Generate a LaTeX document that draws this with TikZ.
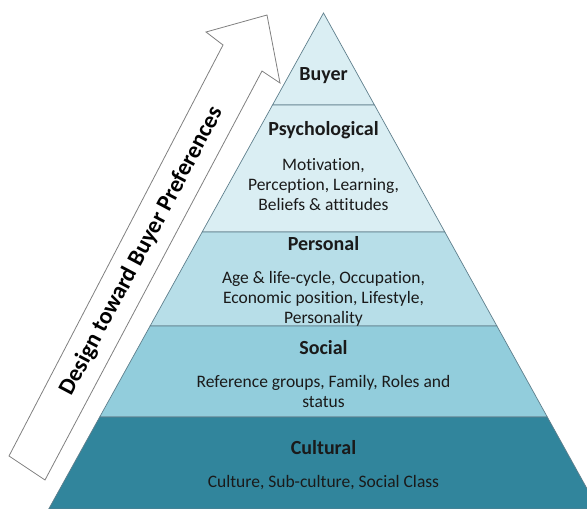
\documentclass[tikz,border=0pt]{standalone}
\usepackage{fontspec}
\setmainfont{Carlito}[Ligatures={NoCommon}]
\usetikzlibrary{positioning}
\definecolor{lightaqua}{HTML}{DAEEF3}
\definecolor{midaqua}{HTML}{B7DEE8}
\definecolor{deepaqua}{HTML}{92CDDC}
\definecolor{darkaqua}{HTML}{31859C}
\definecolor{bandline}{HTML}{5F7F8C}
\definecolor{arrowline}{HTML}{808080}
\definecolor{inkdark}{HTML}{1A1A1A}

\begin{document}
\begin{tikzpicture}[
    x=1pt, y=-1pt,
    on grid,
    band/.style={draw=bandline, line width=0.7pt},
    title/.style={font=\fontsize{20}{22}\selectfont\bfseries, text=inkdark, inner sep=0pt},
    body/.style={font=\fontsize{17.5}{20}\selectfont, text=inkdark, align=center, inner sep=0pt},
    banner/.style={font=\fontsize{23.5}{26}\selectfont\bfseries, text=black, inner sep=0pt}
]
   \useasboundingbox (0,0) rectangle (587,509);
   \clip (0,0) rectangle (587,509);

   % Layers
   \foreach \ytop/\ybot/\col in {13/105/lightaqua, 105/232/lightaqua, 232/326/midaqua, 326/417/deepaqua, 417/509/darkaqua}
      \filldraw[band, fill=\col] ({323.5-0.554*(\ytop-13)},\ytop) -- ({323.5+0.554*(\ytop-13)},\ytop)
         -- ({323.5+0.554*(\ybot-13)},\ybot) -- ({323.5-0.554*(\ybot-13)},\ybot) -- cycle;

   % Arrow
   \draw[draw=arrowline, line width=0.8pt, fill=white]
      (9,456) -- (223,45) -- (206,32) -- (267,15) -- (280,83) -- (262,71) -- (45,480) -- cycle;
   \node[banner, rotate=62] (pref) at (142,251) {Design toward Buyer Preferences};

   % Labels
   \node[title] (buyer) at (323.5,76) {Buyer};
   \node[title] (psych) at (323.5,130) {Psychological};
   \node[body] (psychtxt) [below=55pt of psych] {Motivation,\\Perception, Learning,\\Beliefs \& attitudes};
   \node[title] (personal) at (323.5,244) {Personal};
   \node[body] (personaltxt) [below=55pt of personal] {Age \& life-cycle, Occupation,\\Economic position, Lifestyle,\\Personality};
   \node[title] (social) at (323.5,348) {Social};
   \node[body] (socialtxt) [below=43pt of social] {Reference groups, Family, Roles and\\status};
   \node[title] (cultural) at (323.5,448) {Cultural};
   \node[body] (culturaltxt) [below=35pt of cultural] {Culture, Sub-culture, Social Class};

\end{tikzpicture}
\end{document}
